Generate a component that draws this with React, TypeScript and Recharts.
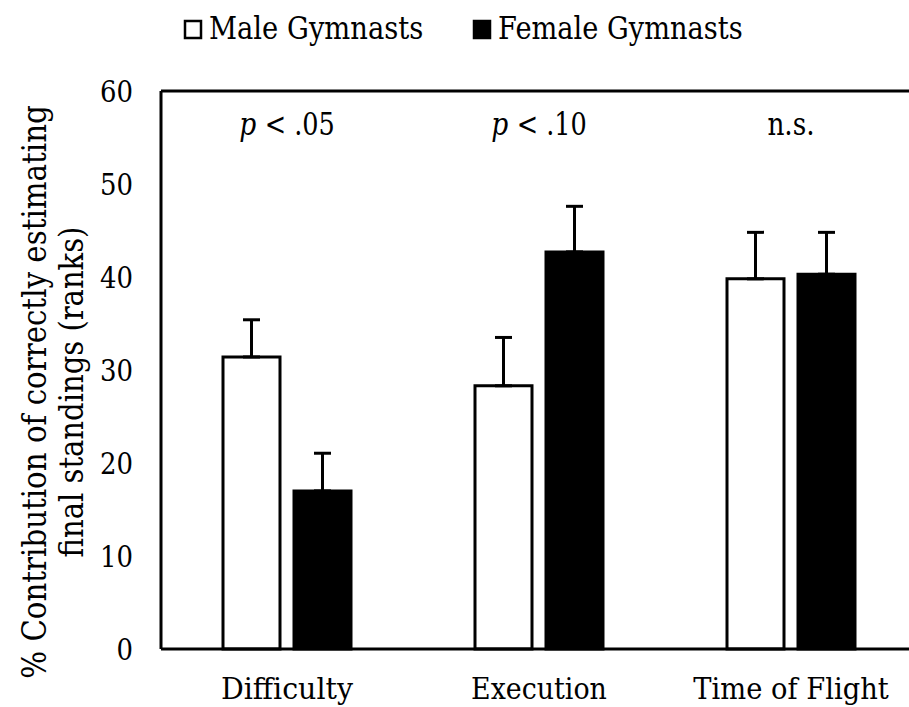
import React from 'react';
import { BarChart, Bar, XAxis, YAxis, ErrorBar, Label, ReferenceLine, ReferenceDot } from 'recharts';

const categories = ['Difficulty', 'Execution', 'Time of Flight'];
const maleValues = [31.4, 28.3, 39.8];
const maleErrors = [4.0, 5.2, 5.0];
const femaleValues = [17.0, 42.7, 40.3];
const femaleErrors = [4.05, 4.9, 4.5];
const significance = ['p < .05', 'p < .10', 'n.s.'];
const seriesNames = ['Male Gymnasts', 'Female Gymnasts'];
const yTicks = [0, 10, 20, 30, 40, 50, 60];
const yLabelLines = ['% Contribution of correctly estimating', 'final standings (ranks)'];

const FONT = "'DejaVu Serif', serif";
// Times-Roman advance widths (per 1000 em) used to squeeze DejaVu Serif to Times proportions
const TIMES_W: Record<string, number> = {
  ' ': 250, '%': 833, '(': 333, ')': 333, '.': 250, '<': 564,
  '0': 500, '1': 500, '2': 500, '3': 500, '4': 500, '5': 500, '6': 500, '7': 500, '8': 500, '9': 500,
  C: 667, D: 722, E: 611, F: 556, G: 722, M: 889, T: 611,
  a: 444, b: 500, c: 444, d: 500, e: 444, f: 333, g: 500, h: 500, i: 278, k: 500, l: 278,
  m: 778, n: 500, o: 500, p: 500, r: 333, s: 389, t: 278, u: 500, x: 500, y: 500,
};
const timesLen = (s: string, size: number) =>
  s.split('').reduce((acc, ch) => acc + (TIMES_W[ch] ?? 500), 0) * size / 1000;
const HEIGHT_RATIO = 0.91; // DejaVu Serif cap height vs Times

type TProps = {
  x: number; y: number; size: number; str: string; anchor?: 'start' | 'middle' | 'end';
  dy?: string; transform?: string; italic?: boolean;
};
const TimesText = ({ x, y, size, str, anchor = 'start', dy, transform, italic }: TProps) => (
  <text
    x={x}
    y={y}
    dy={dy}
    transform={transform}
    textAnchor={anchor}
    fontFamily={FONT}
    fontStyle={italic ? 'italic' : 'normal'}
    fontSize={size * HEIGHT_RATIO}
    textLength={timesLen(str, size)}
    lengthAdjust="spacingAndGlyphs"
    fill="#000"
  >
    {str}
  </text>
);

const data = categories.map((c, i) => ({
  category: c,
  male: maleValues[i],
  maleErr: [0, maleErrors[i]],
  female: femaleValues[i],
  femaleErr: [0, femaleErrors[i]],
}));

const XTick = (props: any) => {
  const { x, payload } = props;
  return <TimesText x={x} y={699} size={33.5} anchor="middle" str={String(payload.value)} />;
};

const YTick = (props: any) => {
  const { x, y, payload } = props;
  return <TimesText x={x} y={y} dy="0.36em" size={33} anchor="end" str={String(payload.value)} />;
};

const SIG_SIZE = 34;
const sigLabel = (s: string) => (props: any) => {
  const vb = props.viewBox || {};
  const cx = (vb.x || 0) + (vb.width || 0) / 2;
  const isP = s.startsWith('p ');
  if (!isP) {
    return <TimesText x={cx} y={135} size={SIG_SIZE} anchor="middle" str={s} />;
  }
  const x0 = cx - timesLen(s, SIG_SIZE) / 2;
  const rest = s.slice(2);
  return (
    <g>
      <TimesText x={x0} y={135} size={SIG_SIZE} str="p" italic />
      <TimesText x={x0 + timesLen('p ', SIG_SIZE)} y={135} size={SIG_SIZE} str={rest} />
    </g>
  );
};

const YLabelContent = () => {
  const cy = 392;
  return (
    <g>
      {yLabelLines.map((line, i) => {
        const lx = 46 + i * 37;
        return (
          <TimesText
            key={i}
            x={lx}
            y={cy}
            size={37}
            anchor="middle"
            str={line}
            transform={`rotate(-90 ${lx} ${cy})`}
          />
        );
      })}
    </g>
  );
};

const legendLayout = [
  { boxX: 185, textX: 209 },
  { boxX: 474, textX: 498 },
];

export default function App() {
  return (
    <div
      style={{
        position: 'absolute',
        left: 0,
        top: 0,
        width: 909,
        height: 707,
        overflow: 'hidden',
        background: '#fff',
      }}
    >
      <BarChart
        width={930}
        height={707}
        data={data}
        margin={{ top: 91, right: 13, bottom: 0, left: 0 }}
        barSize={57}
        barGap={14}
      >
        <XAxis
          dataKey="category"
          height={58}
          tickLine={false}
          axisLine={{ stroke: '#000', strokeWidth: 3 }}
          tick={<XTick />}
          interval={0}
        />
        <YAxis
          width={161}
          domain={[0, 60]}
          ticks={yTicks}
          tickLine={false}
          tickSize={0}
          tickMargin={28}
          axisLine={{ stroke: '#000', strokeWidth: 3 }}
          tick={<YTick />}
        >
          <Label content={<YLabelContent />} />
        </YAxis>
        <ReferenceLine y={60} stroke="#000" strokeWidth={3} />
        {categories.map((c, i) => (
          <ReferenceDot
            key={c}
            x={c}
            y={60}
            r={1}
            fill="none"
            stroke="none"
            label={{ content: sigLabel(significance[i]) }}
          />
        ))}
        <Bar dataKey="male" name={seriesNames[0]} fill="#fff" stroke="#000" strokeWidth={3} isAnimationActive={false}>
          <ErrorBar dataKey="maleErr" direction="y" width={8.5} stroke="#000" strokeWidth={3} />
        </Bar>
        <Bar dataKey="female" name={seriesNames[1]} fill="#000" stroke="#000" strokeWidth={3} isAnimationActive={false}>
          <ErrorBar dataKey="femaleErr" direction="y" width={8.5} stroke="#000" strokeWidth={3} />
        </Bar>
      </BarChart>
      <svg
        width={909}
        height={60}
        style={{ position: 'absolute', left: 0, top: 0, pointerEvents: 'none' }}
      >
        {seriesNames.map((name, i) => (
          <g key={name}>
            <rect
              x={legendLayout[i].boxX}
              y={21}
              width={16}
              height={17}
              fill={i === 0 ? '#fff' : '#000'}
              stroke="#000"
              strokeWidth={2.5}
            />
            <TimesText x={legendLayout[i].textX} y={39} size={34} str={name} />
          </g>
        ))}
      </svg>
    </div>
  );
}
